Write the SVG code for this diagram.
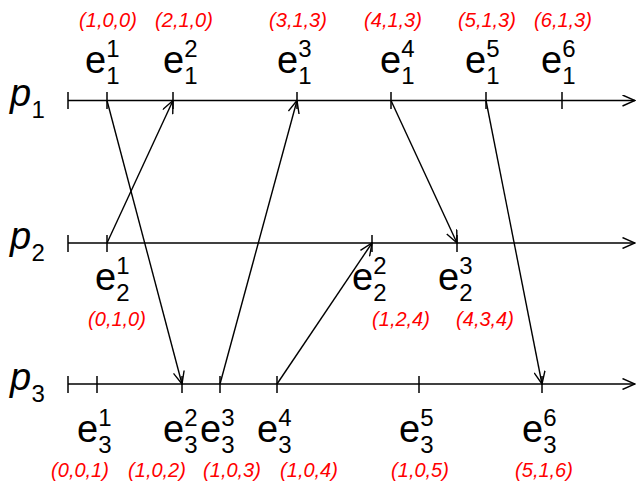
<svg xmlns="http://www.w3.org/2000/svg" width="639" height="482" viewBox="0 0 639 482">
<style>
.ax{stroke:#000;stroke-width:1.5;fill:none}
.tk{stroke:#000;stroke-width:1.5}
.msg{stroke:#000;stroke-width:1.4;fill:none;marker-end:url(#arr)}
.p{font-family:"Liberation Sans",Arial,sans-serif;font-style:italic;font-size:38px;fill:#000}
.e{font-family:"Liberation Sans",Arial,sans-serif;font-size:38px;fill:#000}
.s{font-size:24px;font-style:normal}
.v{font-family:"Liberation Sans",Arial,sans-serif;font-style:italic;font-size:20px;fill:#ff0000;text-anchor:middle}
</style>
<defs>
<marker id="arr" viewBox="0 0 14 12" refX="13" refY="6" markerWidth="14" markerHeight="12" orient="auto" markerUnits="userSpaceOnUse">
<path d="M0.5,0.5 L13,6 L0.5,11.5" fill="none" stroke="#000" stroke-width="1.4"/>
</marker>
</defs>
<rect width="639" height="482" fill="#fff"/>

<g id="p1">
<text class="p" x="10" y="106">p<tspan class="s" x="31.5" y="118">1</tspan></text>
<line class="ax" x1="68" y1="100.5" x2="635" y2="100.5" marker-end="url(#arr)"/>
<line class="tk" x1="68" y1="92" x2="68" y2="109"/>
</g>
<g id="p2">
<text class="p" x="10" y="249">p<tspan class="s" x="31.5" y="261">2</tspan></text>
<line class="ax" x1="68" y1="243" x2="635" y2="243" marker-end="url(#arr)"/>
<line class="tk" x1="68" y1="235" x2="68" y2="252"/>
</g>
<g id="p3">
<text class="p" x="10" y="390">p<tspan class="s" x="31.5" y="402">3</tspan></text>
<line class="ax" x1="68" y1="384" x2="635" y2="384" marker-end="url(#arr)"/>
<line class="tk" x1="68" y1="376" x2="68" y2="393"/>
</g>

<g id="e1_1"><line class="tk" x1="107" y1="92" x2="107" y2="109"/><text class="e" x="85" y="73">e<tspan class="s" x="106.2" y="57">1</tspan><tspan class="s" x="106.2" y="84">1</tspan></text><text class="v" x="108" y="27">(1,0,0)</text></g>
<g id="e1_2"><line class="tk" x1="173" y1="92" x2="173" y2="109"/><text class="e" x="163" y="73">e<tspan class="s" x="184.2" y="57">2</tspan><tspan class="s" x="184.2" y="84">1</tspan></text><text class="v" x="184" y="27">(2,1,0)</text></g>
<g id="e1_3"><line class="tk" x1="297" y1="92" x2="297" y2="109"/><text class="e" x="277" y="73">e<tspan class="s" x="298.2" y="57">3</tspan><tspan class="s" x="298.2" y="84">1</tspan></text><text class="v" x="298" y="27">(3,1,3)</text></g>
<g id="e1_4"><line class="tk" x1="391" y1="92" x2="391" y2="109"/><text class="e" x="380" y="73">e<tspan class="s" x="401.2" y="57">4</tspan><tspan class="s" x="401.2" y="84">1</tspan></text><text class="v" x="393" y="27">(4,1,3)</text></g>
<g id="e1_5"><line class="tk" x1="486" y1="92" x2="486" y2="109"/><text class="e" x="465" y="73">e<tspan class="s" x="486.2" y="57">5</tspan><tspan class="s" x="486.2" y="84">1</tspan></text><text class="v" x="487" y="27">(5,1,3)</text></g>
<g id="e1_6"><line class="tk" x1="562" y1="92" x2="562" y2="109"/><text class="e" x="541" y="73">e<tspan class="s" x="562.2" y="57">6</tspan><tspan class="s" x="562.2" y="84">1</tspan></text><text class="v" x="563" y="27">(6,1,3)</text></g>

<g id="e2_1"><line class="tk" x1="107" y1="235" x2="107" y2="252"/><text class="e" x="95" y="290">e<tspan class="s" x="116.2" y="274">1</tspan><tspan class="s" x="116.2" y="301">2</tspan></text><text class="v" x="117" y="325.5">(0,1,0)</text></g>
<g id="e2_2"><line class="tk" x1="372" y1="235" x2="372" y2="252"/><text class="e" x="352" y="290">e<tspan class="s" x="373.2" y="274">2</tspan><tspan class="s" x="373.2" y="301">2</tspan></text><text class="v" x="401" y="325.5">(1,2,4)</text></g>
<g id="e2_3"><line class="tk" x1="457" y1="235" x2="457" y2="252"/><text class="e" x="438" y="290">e<tspan class="s" x="459.2" y="274">3</tspan><tspan class="s" x="459.2" y="301">2</tspan></text><text class="v" x="485" y="325.5">(4,3,4)</text></g>

<g id="e3_1"><line class="tk" x1="97" y1="376" x2="97" y2="393"/><text class="e" x="77" y="442">e<tspan class="s" x="98.2" y="426">1</tspan><tspan class="s" x="98.2" y="453">3</tspan></text><text class="v" x="80" y="477">(0,0,1)</text></g>
<g id="e3_2"><line class="tk" x1="182" y1="376" x2="182" y2="393"/><text class="e" x="163" y="442">e<tspan class="s" x="184.2" y="426">2</tspan><tspan class="s" x="184.2" y="453">3</tspan></text><text class="v" x="157" y="477">(1,0,2)</text></g>
<g id="e3_3"><line class="tk" x1="220" y1="376" x2="220" y2="393"/><text class="e" x="200" y="442">e<tspan class="s" x="221.2" y="426">3</tspan><tspan class="s" x="221.2" y="453">3</tspan></text><text class="v" x="232" y="477">(1,0,3)</text></g>
<g id="e3_4"><line class="tk" x1="277" y1="376" x2="277" y2="393"/><text class="e" x="257" y="442">e<tspan class="s" x="278.2" y="426">4</tspan><tspan class="s" x="278.2" y="453">3</tspan></text><text class="v" x="309" y="477">(1,0,4)</text></g>
<g id="e3_5"><line class="tk" x1="419" y1="376" x2="419" y2="393"/><text class="e" x="399" y="442">e<tspan class="s" x="420.2" y="426">5</tspan><tspan class="s" x="420.2" y="453">3</tspan></text><text class="v" x="420" y="477">(1,0,5)</text></g>
<g id="e3_6"><line class="tk" x1="542" y1="376" x2="542" y2="393"/><text class="e" x="522" y="442">e<tspan class="s" x="543.2" y="426">6</tspan><tspan class="s" x="543.2" y="453">3</tspan></text><text class="v" x="544" y="477">(5,1,6)</text></g>

<g id="connectors">
<line class="msg" x1="107" y1="100.5" x2="182" y2="384"/>
<line class="msg" x1="107" y1="243" x2="173" y2="100.5"/>
<line class="msg" x1="220" y1="384" x2="297" y2="100.5"/>
<line class="msg" x1="277" y1="384" x2="372" y2="243"/>
<line class="msg" x1="391" y1="100.5" x2="457" y2="243"/>
<line class="msg" x1="486" y1="100.5" x2="542" y2="384"/>
</g>
</svg>
